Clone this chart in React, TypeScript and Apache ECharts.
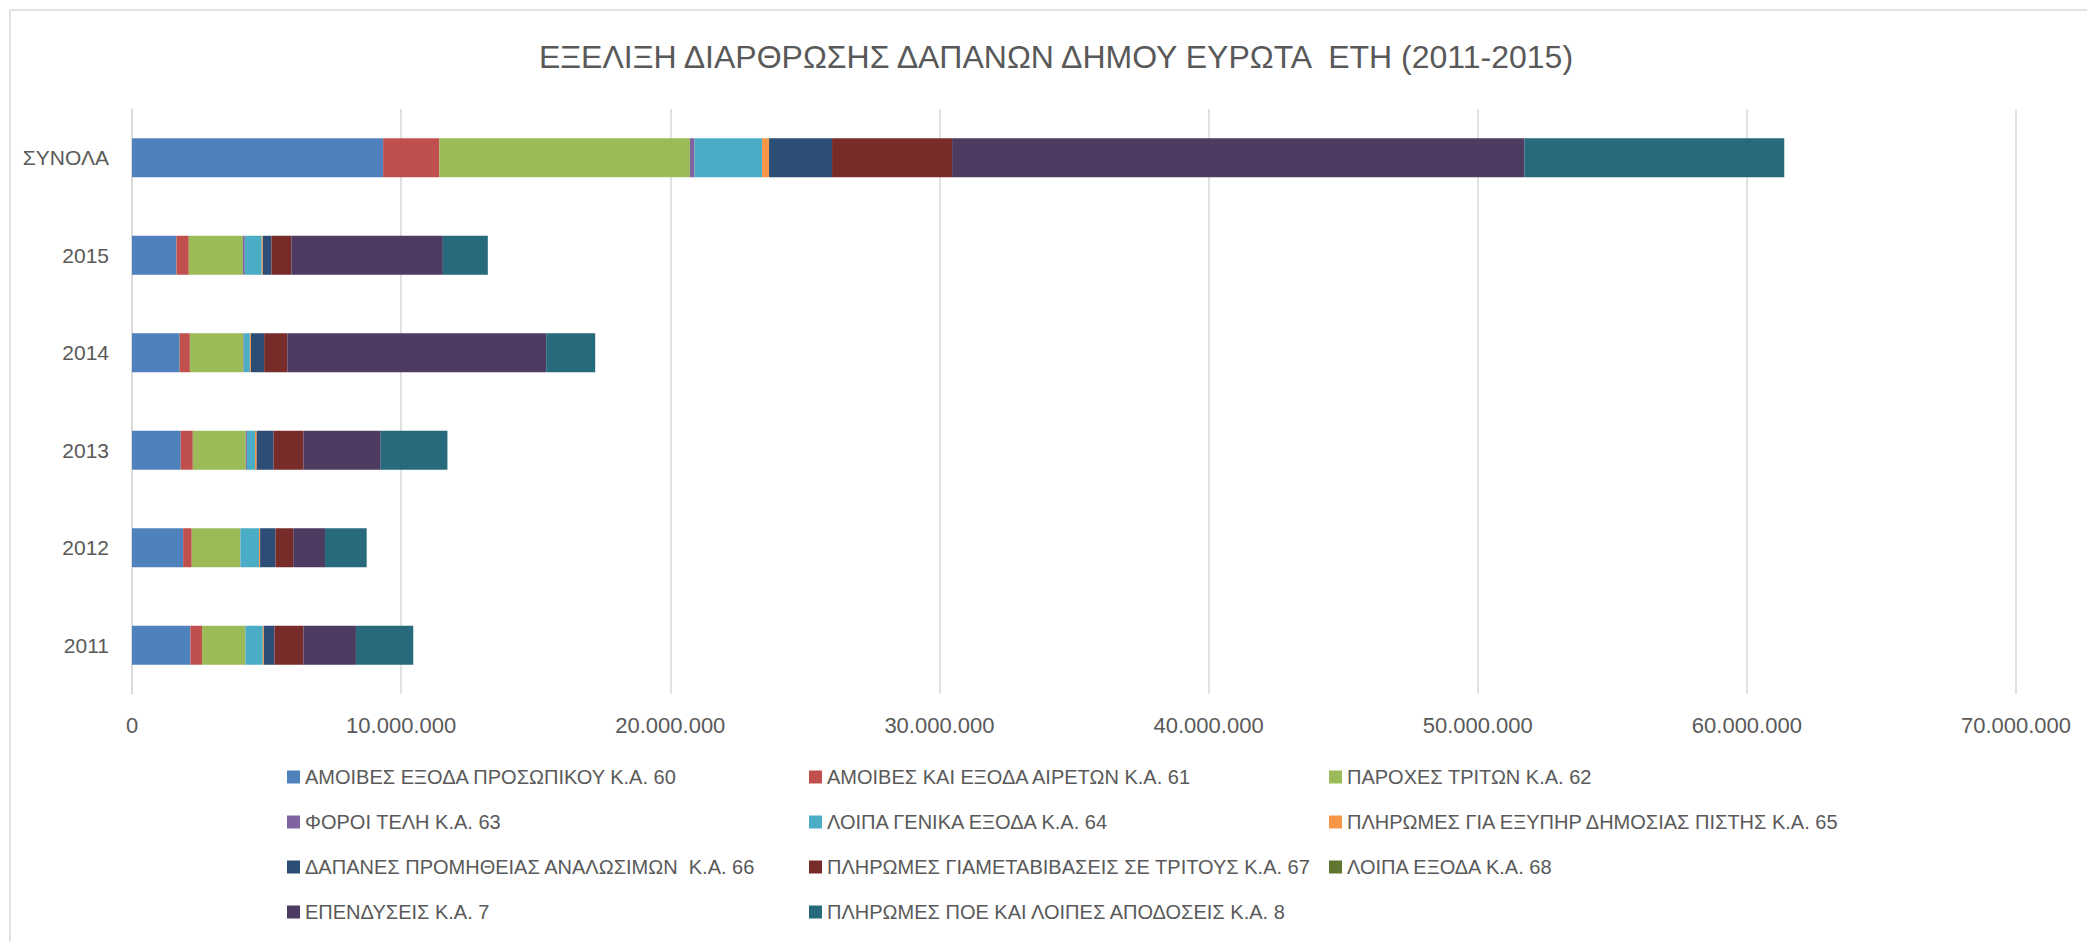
import React, { useEffect, useRef } from "react";
import * as echarts from "echarts";

const categories = ["2011", "2012", "2013", "2014", "2015", "ΣΥΝΟΛΑ"];

const seriesNames = [
  "ΑΜΟΙΒΕΣ ΕΞΟΔΑ ΠΡΟΣΩΠΙΚΟΥ Κ.Α. 60",
  "ΑΜΟΙΒΕΣ ΚΑΙ ΕΞΟΔΑ ΑΙΡΕΤΩΝ Κ.Α. 61",
  "ΠΑΡΟΧΕΣ ΤΡΙΤΩΝ Κ.Α. 62",
  "ΦΟΡΟΙ ΤΕΛΗ Κ.Α. 63",
  "ΛΟΙΠΑ ΓΕΝΙΚΑ ΕΞΟΔΑ Κ.Α. 64",
  "ΠΛΗΡΩΜΕΣ ΓΙΑ ΕΞΥΠΗΡ ΔΗΜΟΣΙΑΣ ΠΙΣΤΗΣ Κ.Α. 65",
  "ΔΑΠΑΝΕΣ ΠΡΟΜΗΘΕΙΑΣ ΑΝΑΛΩΣΙΜΩΝ  Κ.Α. 66",
  "ΠΛΗΡΩΜΕΣ ΓΙΑΜΕΤΑΒΙΒΑΣΕΙΣ ΣΕ ΤΡΙΤΟΥΣ Κ.Α. 67",
  "ΛΟΙΠΑ ΕΞΟΔΑ Κ.Α. 68",
  "ΕΠΕΝΔΥΣΕΙΣ Κ.Α. 7",
  "ΠΛΗΡΩΜΕΣ ΠΟΕ ΚΑΙ ΛΟΙΠΕΣ ΑΠΟΔΟΣΕΙΣ Κ.Α. 8",
];

const colors = [
  "#4f81bd", "#c0504d", "#9bbb59", "#8064a2", "#4bacc6", "#f79646",
  "#2c4d75", "#772c2a", "#5f7530", "#4d3b62", "#276a7c",
];

// values per series, in order of categories: 2011, 2012, 2013, 2014, 2015, ΣΥΝΟΛΑ
const ka60 = [2170000, 1900000, 1810000, 1770000, 1650000, 9330000];
const ka61 = [430000, 320000, 450000, 380000, 460000, 2090000];
const ka62 = [1610000, 1800000, 1970000, 1990000, 2010000, 9310000];
const ka63 = [10000, 10000, 40000, 20000, 70000, 170000];
const ka64 = [640000, 690000, 300000, 220000, 630000, 2510000];
const ka65 = [40000, 40000, 60000, 40000, 40000, 260000];
const ka66 = [390000, 570000, 630000, 490000, 320000, 2340000];
const ka67 = [1080000, 660000, 1110000, 860000, 740000, 4460000];
const ka68 = [0, 0, 0, 0, 0, 0];
const ka7 = [1950000, 1180000, 2870000, 9620000, 5630000, 21270000];
const ka8 = [2130000, 1550000, 2480000, 1820000, 1670000, 9650000];

const seriesValues = [ka60, ka61, ka62, ka63, ka64, ka65, ka66, ka67, ka68, ka7, ka8];

const xTicks = { min: 0, max: 70000000, interval: 10000000 };

const titleText = "ΕΞΕΛΙΞΗ ΔΙΑΡΘΡΩΣΗΣ ΔΑΠΑΝΩΝ ΔΗΜΟΥ ΕΥΡΩΤΑ  ΕΤΗ (2011-2015)";

const legendColumns = [
  [0, 3, 6, 9],
  [1, 4, 7, 10],
  [2, 5, 8],
];

const FONT = "'Liberation Sans', Arial, sans-serif";
const TEXT = "#595959";

function fmt(v: number) {
  return String(Math.round(v)).replace(/\B(?=(\d{3})+(?!\d))/g, ".");
}

export default function App() {
  const ref = useRef<HTMLDivElement>(null);
  useEffect(() => {
    document.body.style.margin = "0";
    if (!ref.current) return;
    const chart = echarts.init(ref.current, undefined, { renderer: "svg" });
    const legendLefts = [282, 804, 1324];
    chart.setOption({
      animation: false,
      backgroundColor: "#ffffff",
      textStyle: { fontFamily: FONT },
      graphic: [
        {
          type: "rect",
          shape: { x: 10, y: 10, width: 2200, height: 1100 },
          style: { fill: "none", stroke: "#d9d9d9", lineWidth: 1.5 },
          silent: true,
          z: -1,
        },
        {
          type: "text",
          x: 1056,
          y: 57,
          style: {
            text: titleText,
            fill: TEXT,
            font: `32px ${FONT}`,
            textAlign: "center",
            textVerticalAlign: "middle",
          },
        },
      ],
      legend: legendColumns.map((col, i) => ({
        orient: "vertical",
        left: legendLefts[i],
        top: 762,
        itemWidth: 13,
        itemHeight: 13,
        itemGap: 25,
        itemTextGap: 7,
        icon: "rect",
        selectedMode: false,
        textStyle: { fontSize: 20, color: TEXT, fontFamily: FONT, lineHeight: 20 },
        data: col.map((k) => seriesNames[k]),
      })),
      grid: { left: 132, right: 71, top: 109, bottom: 248, containLabel: false },
      xAxis: {
        type: "value",
        min: xTicks.min,
        max: xTicks.max,
        interval: xTicks.interval,
        axisLine: { show: false },
        axisTick: { show: false },
        splitLine: { show: true, lineStyle: { color: "#d9d9d9", width: 1.5 } },
        axisLabel: {
          color: TEXT,
          fontSize: 22,
          margin: 20,
          formatter: (v: number) => fmt(v),
        },
      },
      yAxis: {
        type: "category",
        data: categories,
        axisLine: { show: true, lineStyle: { color: "#d9d9d9", width: 1.5 } },
        axisTick: { show: false },
        axisLabel: { color: TEXT, fontSize: 21, margin: 23 },
      },
      series: seriesNames.map((name, i) => ({
        name,
        type: "bar",
        stack: "total",
        barWidth: 39,
        itemStyle: { color: colors[i] },
        data: seriesValues[i],
      })),
    });
    return () => chart.dispose();
  }, []);
  return <div ref={ref} style={{ width: 2087, height: 942, overflow: "hidden" }} />;
}
